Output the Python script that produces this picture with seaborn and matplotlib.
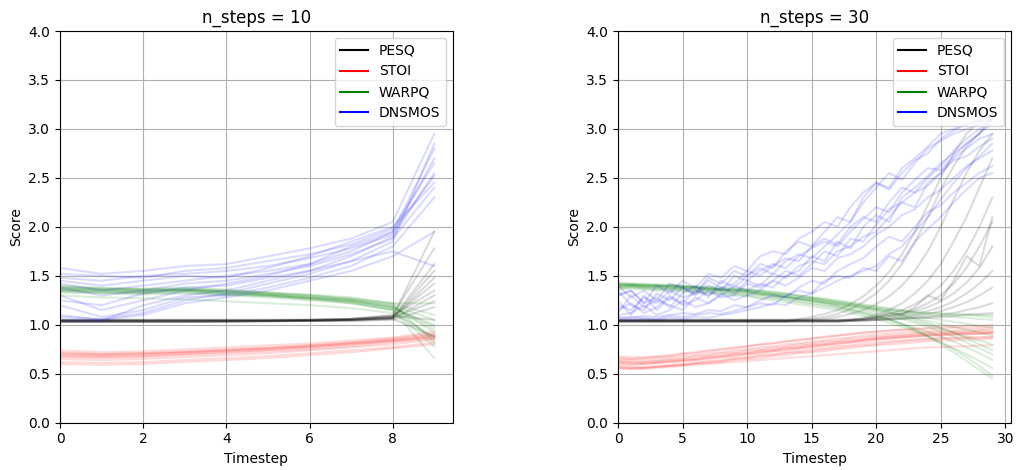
import matplotlib
matplotlib.use("Agg")
import matplotlib.pyplot as plt
from matplotlib.lines import Line2D
import seaborn as sns
import pandas as pd

# Per-sample metric traces over the denoising timesteps (one row per sample)
pesq_10 = [
    [1.03, 1.03, 1.03, 1.03, 1.03, 1.04, 1.04, 1.05, 1.08, 1.95],
    [1.04, 1.04, 1.04, 1.04, 1.04, 1.04, 1.05, 1.06, 1.10, 1.78],
    [1.03, 1.03, 1.03, 1.03, 1.04, 1.04, 1.04, 1.05, 1.07, 1.55],
    [1.05, 1.05, 1.05, 1.05, 1.05, 1.05, 1.05, 1.06, 1.08, 1.42],
    [1.04, 1.04, 1.04, 1.04, 1.04, 1.04, 1.04, 1.05, 1.06, 1.30],
    [1.03, 1.03, 1.03, 1.03, 1.03, 1.03, 1.04, 1.04, 1.05, 1.18],
    [1.04, 1.04, 1.04, 1.04, 1.04, 1.04, 1.05, 1.05, 1.07, 1.62],
    [1.05, 1.05, 1.05, 1.05, 1.05, 1.05, 1.05, 1.06, 1.09, 1.05],
    [1.03, 1.03, 1.03, 1.03, 1.03, 1.04, 1.04, 1.04, 1.06, 0.88],
    [1.04, 1.04, 1.04, 1.04, 1.04, 1.04, 1.04, 1.05, 1.07, 1.48],
    [1.04, 1.04, 1.04, 1.04, 1.04, 1.04, 1.05, 1.06, 1.09, 1.35],
    [1.05, 1.05, 1.05, 1.05, 1.05, 1.05, 1.05, 1.05, 1.07, 1.24],
]
stoi_10 = [
    [0.72, 0.70, 0.71, 0.73, 0.75, 0.77, 0.79, 0.82, 0.85, 0.90],
    [0.68, 0.67, 0.68, 0.70, 0.72, 0.74, 0.77, 0.80, 0.83, 0.88],
    [0.65, 0.64, 0.65, 0.67, 0.69, 0.71, 0.74, 0.77, 0.80, 0.85],
    [0.74, 0.72, 0.73, 0.75, 0.77, 0.79, 0.81, 0.84, 0.87, 0.93],
    [0.70, 0.69, 0.70, 0.72, 0.74, 0.76, 0.78, 0.81, 0.84, 0.89],
    [0.62, 0.61, 0.62, 0.64, 0.66, 0.68, 0.71, 0.74, 0.77, 0.82],
    [0.71, 0.70, 0.71, 0.72, 0.74, 0.76, 0.79, 0.82, 0.86, 0.91],
    [0.67, 0.66, 0.67, 0.69, 0.71, 0.73, 0.75, 0.78, 0.82, 0.86],
    [0.69, 0.68, 0.69, 0.71, 0.73, 0.75, 0.77, 0.80, 0.84, 0.87],
    [0.60, 0.59, 0.60, 0.62, 0.64, 0.66, 0.69, 0.72, 0.76, 0.80],
]
warpq_10 = [
    [1.36, 1.35, 1.34, 1.36, 1.33, 1.31, 1.28, 1.25, 1.18, 0.95],
    [1.38, 1.36, 1.36, 1.35, 1.34, 1.32, 1.29, 1.26, 1.20, 1.05],
    [1.34, 1.33, 1.33, 1.34, 1.31, 1.30, 1.27, 1.23, 1.16, 0.85],
    [1.40, 1.38, 1.37, 1.38, 1.36, 1.33, 1.30, 1.27, 1.22, 1.10],
    [1.33, 1.32, 1.31, 1.32, 1.30, 1.28, 1.25, 1.22, 1.15, 0.78],
    [1.37, 1.36, 1.35, 1.36, 1.34, 1.31, 1.28, 1.25, 1.19, 0.92],
    [1.35, 1.34, 1.33, 1.35, 1.32, 1.30, 1.27, 1.24, 1.17, 1.00],
    [1.30, 1.28, 1.27, 1.26, 1.24, 1.22, 1.20, 1.17, 1.12, 0.88],
    [1.39, 1.37, 1.36, 1.37, 1.35, 1.32, 1.30, 1.26, 1.21, 0.82],
    [1.36, 1.35, 1.34, 1.35, 1.33, 1.30, 1.27, 1.24, 1.18, 0.98],
    [1.35, 1.33, 1.32, 1.33, 1.31, 1.29, 1.26, 1.22, 1.15, 0.66],
    [1.38, 1.37, 1.36, 1.36, 1.35, 1.33, 1.31, 1.28, 1.22, 1.22],
]
dnsmos_10 = [
    [1.58, 1.52, 1.55, 1.60, 1.62, 1.70, 1.78, 1.88, 2.05, 2.95],
    [1.05, 1.04, 1.20, 1.30, 1.35, 1.45, 1.55, 1.70, 1.90, 2.55],
    [1.30, 1.15, 1.25, 1.35, 1.42, 1.50, 1.62, 1.80, 1.95, 2.80],
    [1.45, 1.40, 1.45, 1.50, 1.48, 1.58, 1.70, 1.85, 2.00, 2.45],
    [1.20, 1.08, 1.15, 1.28, 1.30, 1.38, 1.48, 1.60, 1.80, 2.30],
    [1.52, 1.50, 1.48, 1.55, 1.58, 1.65, 1.72, 1.82, 1.98, 2.65],
    [1.10, 1.05, 1.10, 1.22, 1.28, 1.35, 1.45, 1.55, 1.70, 1.95],
    [1.38, 1.30, 1.35, 1.42, 1.45, 1.52, 1.60, 1.72, 1.88, 2.40],
    [1.25, 1.20, 1.32, 1.38, 1.40, 1.48, 1.55, 1.65, 1.75, 1.60],
    [1.48, 1.45, 1.50, 1.52, 1.55, 1.60, 1.68, 1.78, 1.92, 2.70],
    [1.08, 1.06, 1.12, 1.25, 1.32, 1.42, 1.52, 1.65, 1.85, 2.85],
    [1.42, 1.35, 1.40, 1.45, 1.50, 1.55, 1.62, 1.75, 1.95, 2.52],
]

pesq_30 = [
    [1.04, 1.04, 1.04, 1.04, 1.04, 1.04, 1.04, 1.04, 1.04, 1.04, 1.04, 1.04, 1.04, 1.04, 1.06,
     1.08, 1.11, 1.15, 1.21, 1.29, 1.40, 1.54, 1.72, 1.95, 2.22, 2.50, 2.75, 2.95, 3.08, 3.15],
    [1.03, 1.03, 1.03, 1.03, 1.03, 1.03, 1.03, 1.03, 1.03, 1.03, 1.03, 1.03, 1.03, 1.03, 1.05,
     1.06, 1.08, 1.11, 1.16, 1.23, 1.32, 1.45, 1.62, 1.84, 2.10, 2.38, 2.62, 2.82, 2.96, 3.05],
    [1.05, 1.05, 1.05, 1.05, 1.05, 1.05, 1.05, 1.05, 1.05, 1.05, 1.05, 1.05, 1.05, 1.05, 1.05,
     1.05, 1.06, 1.08, 1.11, 1.15, 1.21, 1.29, 1.40, 1.55, 1.75, 2.00, 2.28, 2.55, 2.78, 2.95],
    [1.04, 1.04, 1.04, 1.04, 1.04, 1.04, 1.04, 1.04, 1.04, 1.04, 1.04, 1.04, 1.04, 1.04, 1.04,
     1.04, 1.04, 1.04, 1.05, 1.07, 1.10, 1.15, 1.22, 1.32, 1.45, 1.62, 1.85, 2.10, 2.40, 2.70],
    [1.04, 1.04, 1.04, 1.04, 1.04, 1.04, 1.04, 1.04, 1.04, 1.04, 1.04, 1.04, 1.04, 1.04, 1.04,
     1.04, 1.04, 1.04, 1.05, 1.06, 1.08, 1.11, 1.15, 1.21, 1.29, 1.40, 1.55, 1.75, 2.00, 2.30],
    [1.03, 1.03, 1.03, 1.03, 1.03, 1.03, 1.03, 1.03, 1.03, 1.03, 1.03, 1.03, 1.03, 1.03, 1.03,
     1.03, 1.03, 1.03, 1.04, 1.05, 1.07, 1.09, 1.12, 1.16, 1.22, 1.30, 1.42, 1.58, 1.80, 2.05],
    [1.05, 1.05, 1.05, 1.05, 1.05, 1.05, 1.05, 1.05, 1.05, 1.05, 1.05, 1.05, 1.05, 1.05, 1.05,
     1.05, 1.05, 1.05, 1.05, 1.06, 1.07, 1.09, 1.11, 1.14, 1.18, 1.24, 1.32, 1.43, 1.58, 1.80],
    [1.04, 1.04, 1.04, 1.04, 1.04, 1.04, 1.04, 1.04, 1.04, 1.04, 1.04, 1.04, 1.04, 1.04, 1.04,
     1.04, 1.04, 1.04, 1.04, 1.05, 1.06, 1.07, 1.09, 1.11, 1.14, 1.18, 1.24, 1.32, 1.42, 1.55],
    [1.04, 1.04, 1.04, 1.04, 1.04, 1.04, 1.04, 1.04, 1.04, 1.04, 1.04, 1.04, 1.04, 1.04, 1.04,
     1.04, 1.04, 1.04, 1.04, 1.04, 1.05, 1.06, 1.07, 1.09, 1.11, 1.14, 1.18, 1.23, 1.30, 1.38],
    [1.03, 1.03, 1.03, 1.03, 1.03, 1.03, 1.03, 1.03, 1.03, 1.03, 1.03, 1.03, 1.03, 1.03, 1.03,
     1.03, 1.03, 1.03, 1.04, 1.04, 1.05, 1.05, 1.06, 1.07, 1.08, 1.10, 1.12, 1.15, 1.18, 1.22],
    [1.05, 1.05, 1.05, 1.05, 1.05, 1.05, 1.05, 1.05, 1.05, 1.05, 1.05, 1.05, 1.05, 1.05, 1.05,
     1.05, 1.05, 1.05, 1.05, 1.05, 1.05, 1.06, 1.06, 1.07, 1.07, 1.08, 1.09, 1.10, 1.11, 1.12],
    [1.04, 1.04, 1.04, 1.04, 1.04, 1.04, 1.04, 1.04, 1.04, 1.04, 1.04, 1.04, 1.04, 1.04, 1.04,
     1.04, 1.04, 1.04, 1.05, 1.06, 1.08, 1.12, 1.10, 1.18, 1.30, 1.25, 1.45, 1.70, 1.60, 2.10],
]
stoi_30 = [
    [0.62, 0.61, 0.61, 0.62, 0.63, 0.64, 0.65, 0.67, 0.68, 0.70, 0.71, 0.73, 0.74, 0.76, 0.77,
     0.79, 0.80, 0.82, 0.83, 0.85, 0.86, 0.87, 0.88, 0.89, 0.90, 0.90, 0.91, 0.91, 0.91, 0.92],
    [0.58, 0.57, 0.57, 0.58, 0.59, 0.60, 0.61, 0.63, 0.64, 0.66, 0.67, 0.69, 0.70, 0.72, 0.73,
     0.75, 0.76, 0.78, 0.79, 0.81, 0.82, 0.83, 0.84, 0.85, 0.86, 0.86, 0.87, 0.87, 0.87, 0.88],
    [0.66, 0.65, 0.65, 0.66, 0.67, 0.68, 0.69, 0.71, 0.72, 0.74, 0.75, 0.77, 0.78, 0.80, 0.81,
     0.83, 0.84, 0.86, 0.87, 0.89, 0.90, 0.91, 0.92, 0.93, 0.93, 0.94, 0.94, 0.95, 0.95, 0.96],
    [0.55, 0.55, 0.56, 0.57, 0.58, 0.59, 0.60, 0.61, 0.62, 0.64, 0.65, 0.66, 0.68, 0.69, 0.71,
     0.72, 0.73, 0.75, 0.76, 0.78, 0.79, 0.80, 0.81, 0.82, 0.83, 0.84, 0.84, 0.85, 0.85, 0.86],
    [0.64, 0.63, 0.63, 0.64, 0.65, 0.66, 0.68, 0.69, 0.71, 0.72, 0.74, 0.75, 0.77, 0.78, 0.80,
     0.81, 0.83, 0.84, 0.86, 0.87, 0.88, 0.89, 0.90, 0.91, 0.92, 0.92, 0.93, 0.93, 0.94, 0.94],
    [0.60, 0.59, 0.60, 0.61, 0.62, 0.63, 0.64, 0.65, 0.67, 0.68, 0.70, 0.71, 0.73, 0.74, 0.76,
     0.77, 0.79, 0.80, 0.82, 0.83, 0.85, 0.86, 0.87, 0.88, 0.89, 0.89, 0.90, 0.90, 0.91, 0.91],
    [0.68, 0.67, 0.67, 0.68, 0.69, 0.71, 0.72, 0.74, 0.75, 0.77, 0.78, 0.80, 0.81, 0.83, 0.84,
     0.86, 0.87, 0.89, 0.90, 0.92, 0.93, 0.94, 0.95, 0.95, 0.96, 0.96, 0.97, 0.97, 0.97, 0.98],
    [0.57, 0.56, 0.56, 0.57, 0.58, 0.59, 0.61, 0.62, 0.63, 0.65, 0.66, 0.68, 0.69, 0.71, 0.72,
     0.73, 0.75, 0.76, 0.78, 0.79, 0.80, 0.82, 0.83, 0.84, 0.85, 0.86, 0.86, 0.87, 0.87, 0.87],
    [0.63, 0.62, 0.62, 0.63, 0.64, 0.65, 0.66, 0.68, 0.69, 0.71, 0.72, 0.74, 0.75, 0.77, 0.78,
     0.80, 0.81, 0.83, 0.84, 0.85, 0.87, 0.88, 0.89, 0.90, 0.91, 0.91, 0.92, 0.92, 0.93, 0.93],
    [0.61, 0.60, 0.60, 0.61, 0.62, 0.63, 0.64, 0.66, 0.67, 0.69, 0.70, 0.72, 0.73, 0.75, 0.76,
     0.78, 0.79, 0.81, 0.82, 0.84, 0.85, 0.86, 0.87, 0.88, 0.89, 0.90, 0.90, 0.91, 0.91, 0.92],
    [0.56, 0.55, 0.55, 0.56, 0.57, 0.58, 0.59, 0.60, 0.61, 0.62, 0.63, 0.64, 0.65, 0.66, 0.67,
     0.68, 0.69, 0.70, 0.71, 0.72, 0.73, 0.74, 0.75, 0.76, 0.77, 0.77, 0.78, 0.78, 0.79, 0.79],
    [0.66, 0.65, 0.66, 0.67, 0.68, 0.70, 0.71, 0.73, 0.75, 0.76, 0.78, 0.80, 0.81, 0.83, 0.85,
     0.86, 0.88, 0.89, 0.91, 0.92, 0.93, 0.94, 0.95, 0.96, 0.97, 0.98, 0.98, 0.99, 0.99, 1.00],
]
warpq_30 = [
    [1.40, 1.41, 1.40, 1.39, 1.40, 1.39, 1.38, 1.37, 1.36, 1.36, 1.35, 1.33, 1.32, 1.30, 1.28,
     1.27, 1.25, 1.23, 1.21, 1.19, 1.16, 1.13, 1.10, 1.06, 1.02, 0.97, 0.92, 0.86, 0.80, 0.74],
    [1.42, 1.42, 1.41, 1.41, 1.40, 1.40, 1.39, 1.38, 1.37, 1.37, 1.36, 1.35, 1.33, 1.32, 1.30,
     1.28, 1.26, 1.24, 1.22, 1.20, 1.18, 1.16, 1.14, 1.12, 1.10, 1.09, 1.08, 1.07, 1.06, 1.05],
    [1.38, 1.39, 1.38, 1.37, 1.37, 1.36, 1.35, 1.34, 1.33, 1.32, 1.31, 1.30, 1.28, 1.26, 1.24,
     1.22, 1.20, 1.18, 1.15, 1.12, 1.09, 1.05, 1.00, 0.95, 0.89, 0.82, 0.75, 0.67, 0.58, 0.48],
    [1.41, 1.40, 1.40, 1.40, 1.39, 1.38, 1.38, 1.37, 1.36, 1.35, 1.34, 1.33, 1.31, 1.29, 1.27,
     1.25, 1.23, 1.21, 1.19, 1.17, 1.14, 1.11, 1.08, 1.04, 1.00, 0.96, 0.92, 0.88, 0.84, 0.80],
    [1.39, 1.40, 1.39, 1.38, 1.38, 1.37, 1.36, 1.36, 1.35, 1.34, 1.33, 1.31, 1.30, 1.28, 1.26,
     1.24, 1.22, 1.20, 1.17, 1.15, 1.12, 1.09, 1.06, 1.02, 0.98, 0.93, 0.88, 0.82, 0.76, 0.70],
    [1.43, 1.42, 1.42, 1.41, 1.41, 1.40, 1.39, 1.39, 1.38, 1.37, 1.36, 1.35, 1.34, 1.32, 1.30,
     1.28, 1.27, 1.25, 1.23, 1.21, 1.19, 1.17, 1.15, 1.13, 1.12, 1.11, 1.10, 1.10, 1.09, 1.08],
    [1.37, 1.38, 1.37, 1.36, 1.36, 1.35, 1.34, 1.33, 1.32, 1.31, 1.30, 1.28, 1.27, 1.25, 1.23,
     1.21, 1.19, 1.17, 1.14, 1.11, 1.08, 1.05, 1.01, 0.97, 0.93, 0.88, 0.83, 0.77, 0.71, 0.64],
    [1.40, 1.40, 1.39, 1.39, 1.38, 1.38, 1.37, 1.36, 1.35, 1.35, 1.34, 1.32, 1.31, 1.29, 1.27,
     1.26, 1.24, 1.22, 1.20, 1.18, 1.15, 1.13, 1.10, 1.07, 1.04, 1.01, 0.98, 0.95, 0.92, 0.89],
    [1.36, 1.37, 1.36, 1.35, 1.35, 1.34, 1.33, 1.32, 1.31, 1.30, 1.29, 1.27, 1.25, 1.23, 1.21,
     1.19, 1.17, 1.15, 1.12, 1.09, 1.06, 1.02, 0.98, 0.93, 0.88, 0.82, 0.76, 0.70, 0.63, 0.56],
    [1.41, 1.41, 1.40, 1.40, 1.39, 1.39, 1.38, 1.37, 1.36, 1.36, 1.35, 1.34, 1.32, 1.31, 1.29,
     1.27, 1.25, 1.23, 1.21, 1.19, 1.17, 1.15, 1.12, 1.10, 1.07, 1.05, 1.03, 1.01, 0.99, 0.97],
    [1.39, 1.39, 1.38, 1.38, 1.37, 1.37, 1.36, 1.35, 1.34, 1.33, 1.32, 1.31, 1.29, 1.28, 1.26,
     1.25, 1.23, 1.21, 1.19, 1.17, 1.16, 1.15, 1.14, 1.13, 1.12, 1.12, 1.11, 1.11, 1.10, 1.10],
    [1.42, 1.41, 1.41, 1.40, 1.40, 1.39, 1.38, 1.37, 1.36, 1.35, 1.34, 1.32, 1.30, 1.28, 1.26,
     1.24, 1.22, 1.19, 1.16, 1.13, 1.10, 1.06, 1.01, 0.95, 0.88, 0.80, 0.72, 0.63, 0.54, 0.45],
]
dnsmos_30 = [
    [1.30, 1.35, 1.22, 1.40, 1.32, 1.45, 1.38, 1.52, 1.48, 1.60, 1.55, 1.70, 1.75, 1.72, 1.88,
     1.95, 2.05, 2.00, 2.20, 2.35, 2.45, 2.40, 2.60, 2.70, 2.82, 2.95, 3.00, 3.05, 3.10, 3.15],
    [1.05, 1.05, 1.06, 1.05, 1.07, 1.06, 1.08, 1.07, 1.10, 1.12, 1.15, 1.18, 1.22, 1.20, 1.28,
     1.32, 1.38, 1.45, 1.50, 1.55, 1.60, 1.72, 1.80, 1.95, 2.10, 2.28, 2.45, 2.60, 2.72, 2.85],
    [1.25, 1.10, 1.30, 1.15, 1.28, 1.22, 1.35, 1.30, 1.38, 1.32, 1.45, 1.40, 1.52, 1.48, 1.60,
     1.65, 1.62, 1.75, 1.80, 1.90, 1.95, 2.10, 2.25, 2.20, 2.45, 2.55, 2.70, 2.80, 2.90, 2.95],
    [1.12, 1.30, 1.18, 1.25, 1.20, 1.15, 1.28, 1.22, 1.30, 1.40, 1.35, 1.42, 1.38, 1.50, 1.55,
     1.70, 1.65, 1.85, 1.78, 2.00, 2.12, 2.05, 2.30, 2.40, 2.52, 2.65, 2.75, 2.85, 2.95, 3.10],
    [1.08, 1.07, 1.09, 1.08, 1.10, 1.12, 1.11, 1.15, 1.14, 1.20, 1.18, 1.25, 1.30, 1.28, 1.38,
     1.45, 1.42, 1.55, 1.62, 1.68, 1.80, 1.90, 1.85, 2.00, 2.15, 2.22, 2.35, 2.45, 2.55, 2.62],
    [1.35, 1.20, 1.15, 1.32, 1.25, 1.38, 1.30, 1.40, 1.35, 1.50, 1.45, 1.55, 1.62, 1.58, 1.70,
     1.78, 1.85, 1.80, 1.95, 2.08, 2.20, 2.15, 2.35, 2.48, 2.60, 2.58, 2.72, 2.85, 2.95, 3.15],
    [1.15, 1.22, 1.12, 1.18, 1.30, 1.20, 1.25, 1.35, 1.28, 1.30, 1.42, 1.38, 1.45, 1.55, 1.50,
     1.62, 1.75, 1.70, 1.88, 1.85, 2.02, 2.18, 2.25, 2.35, 2.42, 2.55, 2.68, 2.72, 2.82, 2.90],
    [1.06, 1.08, 1.07, 1.06, 1.09, 1.08, 1.10, 1.12, 1.11, 1.14, 1.18, 1.22, 1.20, 1.30, 1.35,
     1.32, 1.45, 1.50, 1.48, 1.58, 1.55, 1.70, 1.65, 1.85, 1.98, 2.10, 2.25, 2.38, 2.50, 2.55],
    [1.30, 1.35, 1.22, 1.28, 1.18, 1.32, 1.40, 1.28, 1.45, 1.38, 1.50, 1.58, 1.52, 1.65, 1.72,
     1.68, 1.80, 1.92, 2.05, 2.25, 2.40, 2.55, 2.48, 2.65, 2.80, 2.88, 2.95, 3.00, 3.05, 3.10],
    [1.10, 1.12, 1.20, 1.10, 1.15, 1.25, 1.18, 1.22, 1.32, 1.25, 1.30, 1.35, 1.45, 1.40, 1.48,
     1.58, 1.55, 1.68, 1.72, 1.80, 1.92, 2.00, 2.12, 2.18, 2.30, 2.38, 2.50, 2.62, 2.70, 2.78],
    [1.20, 1.15, 1.28, 1.22, 1.35, 1.28, 1.32, 1.45, 1.38, 1.42, 1.55, 1.50, 1.60, 1.68, 1.65,
     1.80, 1.88, 1.82, 2.00, 2.10, 2.05, 2.25, 2.40, 2.35, 2.50, 2.62, 2.78, 2.90, 3.00, 3.10],
    [1.40, 1.28, 1.35, 1.25, 1.42, 1.38, 1.32, 1.48, 1.42, 1.55, 1.50, 1.62, 1.58, 1.75, 1.85,
     1.80, 1.95, 2.10, 2.05, 2.30, 2.45, 2.38, 2.55, 2.68, 2.75, 2.90, 2.98, 3.05, 3.08, 3.12],
]

metric_names = ["PESQ", "STOI", "WARPQ", "DNSMOS"]
metric_colors = ["black", "red", "green", "blue"]
panels = [
    (10, [pesq_10, stoi_10, warpq_10, dnsmos_10], [0, 2, 4, 6, 8]),
    (30, [pesq_30, stoi_30, warpq_30, dnsmos_30], [0, 5, 10, 15, 20, 25, 30]),
]


def to_long(traces, name):
    rows = []
    for k, trace in enumerate(traces):
        for t, v in enumerate(trace):
            rows.append({"Timestep": t, "Score": v, "sample": k, "metric": name})
    return pd.DataFrame(rows)


fig = plt.figure(figsize=(10.17, 4.70), dpi=100)
axes = [fig.add_axes([0.059, 0.1006, 0.3864, 0.8334]),
        fig.add_axes([0.6077, 0.1006, 0.3864, 0.8334])]

for ax, (n_steps, series, xticks) in zip(axes, panels):
    for name, color, traces in zip(metric_names, metric_colors, series):
        df = to_long(traces, name)
        sns.lineplot(data=df, x="Timestep", y="Score", units="sample",
                     estimator=None, color=color, alpha=0.14, linewidth=1.5,
                     ax=ax, legend=False)
    ax.set_title(f"n_steps = {n_steps}", fontsize=12)
    ax.set_ylim(0, 4)
    ax.set_yticks([0.0, 0.5, 1.0, 1.5, 2.0, 2.5, 3.0, 3.5, 4.0])
    ax.set_xticks(xticks)
    ax.set_xlim(0, (n_steps - 1) * 1.05)
    ax.set_xlabel("Timestep")
    ax.set_ylabel("Score")
    ax.grid(True, color="#b0b0b0", linewidth=0.8)
    handles = [Line2D([0], [0], color=c, linewidth=1.5) for c in metric_colors]
    ax.legend(handles, metric_names, loc="upper right", fontsize=10)

fig.savefig("out.png", dpi=100)
